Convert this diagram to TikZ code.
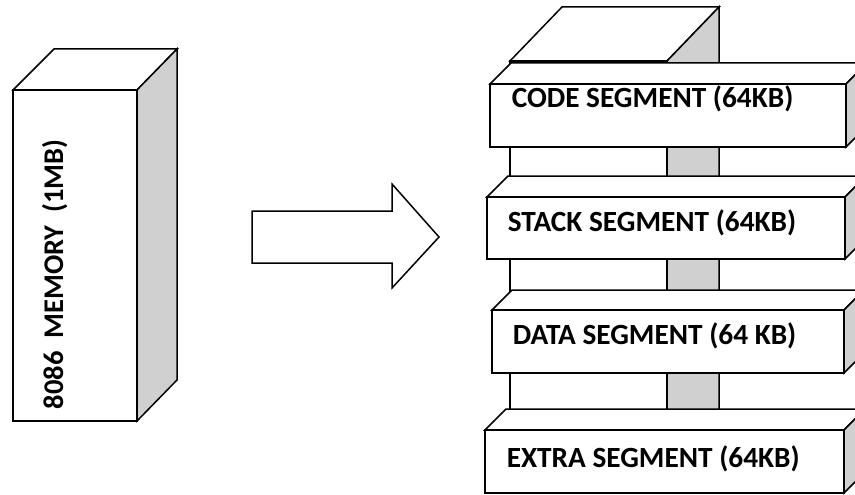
\documentclass[tikz,border=0pt]{standalone}
\usepackage{fontspec}
\setmainfont{Carlito}
\definecolor{boxgray}{RGB}{208,208,208}
\begin{document}
\begin{tikzpicture}[x=1pt,y=-1pt, line width=1.5pt, line join=miter,
  face/.style={fill=white,draw=black},
  side/.style={fill=boxgray,draw=black},
  lbl/.style={font=\bfseries\fontsize{29.3}{30}\selectfont, inner sep=0pt, anchor=base west}]
\useasboundingbox (0,0) rectangle (855,495);
\begin{scope}
\clip (0,0) rectangle (855,495);
% left memory box
\draw[face] (13,90) -- (54,49) -- (177,49) -- (137,90) -- cycle;
\draw[side] (137,90) -- (177,49) -- (177,380) -- (137,421) -- cycle;
\draw[face] (13,90) rectangle (137,421);
\node[lbl, font=\bfseries\fontsize{28.5}{29}\selectfont, rotate=90] (mem) at (63,410) {8086\ \ MEMORY\ \ (1MB)};
% block arrow
\draw[face] (252,211) -- (392,211) -- (392,184) -- (439,237) -- (392,288) -- (392,263) -- (252,263) -- cycle;
% column
\draw[face] (510,61) -- (562,7) -- (719,7) -- (667,61) -- cycle;
\draw[side] (667,61) -- (719,7) -- (719,420) -- (667,420) -- cycle;
\draw[face] (510,61) rectangle (667,420);
% segments
\foreach \L/\T/\B/\R/\d in {490/84/147/846/21, 487/197/259/845/21, 492/310/373/844/20, 485/430/493/844/21}{
  \draw[face] (\L,\T) -- ({\L+\d},{\T-\d}) -- ({\R+\d},{\T-\d}) -- (\R,\T) -- cycle;
  \draw[side] (\R,\T) -- ({\R+\d},{\T-\d}) -- ({\R+\d},{\B-\d}) -- (\R,\B) -- cycle;
  \draw[face] (\L,\T) rectangle (\R,\B);
}
\node[lbl] (cs) at (511,108) {CODE SEGMENT (64KB)};
\node[lbl] (ss) at (507,231) {STACK SEGMENT (64KB)};
\node[lbl] (ds) at (512,344) {DATA SEGMENT (64 KB)};
\node[lbl] (es) at (506,467) {EXTRA SEGMENT (64KB)};
\end{scope}
\end{tikzpicture}
\end{document}
